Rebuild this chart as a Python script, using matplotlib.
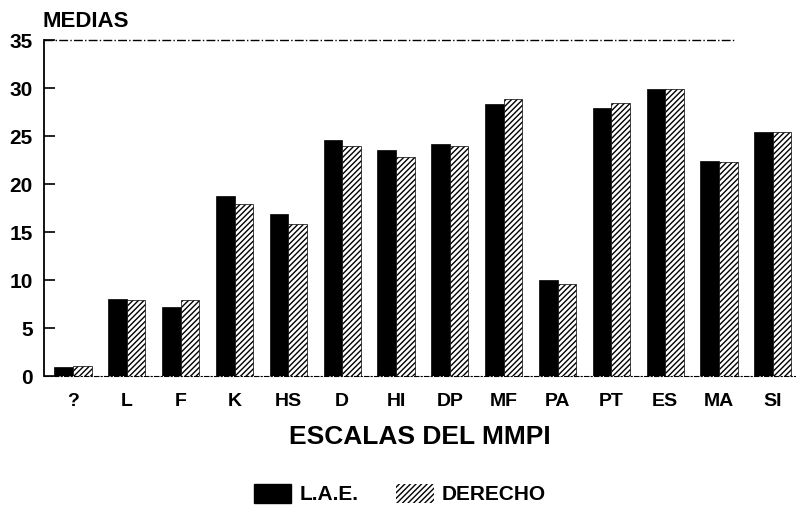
import matplotlib
matplotlib.use("Agg")
import matplotlib.pyplot as plt
import numpy as np
from matplotlib.patches import Patch

escalas = ["?", "L", "F", "K", "HS", "D", "HI", "DP", "MF", "PA", "PT", "ES", "MA", "SI"]
medias_lae = [0.9, 8.0, 7.2, 18.8, 16.9, 24.6, 23.5, 24.2, 28.3, 10.0, 27.9, 29.9, 22.4, 25.4]
medias_derecho = [1.0, 7.9, 7.9, 17.9, 15.8, 24.0, 22.8, 24.0, 28.9, 9.6, 28.4, 29.9, 22.3, 25.4]
y_ticks = [0, 5, 10, 15, 20, 25, 30, 35]

plt.rcParams["font.family"] = ["Liberation Sans", "DejaVu Sans"]
plt.rcParams["hatch.linewidth"] = 1.0

fig = plt.figure(figsize=(7.96, 5.12), dpi=100)
ax = fig.add_axes([44 / 796, 1 - 376 / 512, 1 - 44 / 796, 336 / 512])

x = np.arange(len(escalas))
w = 0.345
ax.bar(x - w / 2, medias_lae, w, color="black", edgecolor="black", linewidth=0.5)
ax.bar(x + w / 2, medias_derecho, w, color="white", edgecolor="black",
       linewidth=0.5, hatch="//////")

ax.set_xlim(-0.54, 13.43)
ax.set_ylim(0, 35)
ax.set_yticks(y_ticks)
ax.set_xticks(x)
ax.set_xticklabels(escalas, fontsize=14, fontweight="bold")
ax.tick_params(axis="x", length=0, pad=12)
ax.tick_params(axis="y", direction="in", length=8, width=1.2, pad=8,
               labelsize=15)
for lab in ax.get_yticklabels():
    lab.set_fontweight("bold")

for s in ["top", "right"]:
    ax.spines[s].set_visible(False)
ax.spines["left"].set_linewidth(1.3)
ax.spines["bottom"].set_linestyle((0, (4, 2, 1, 2)))
ax.spines["bottom"].set_linewidth(0.8)
# linea superior punteada en 35
ax.hlines(35, -0.54, 12.29, colors="black", linestyles="dashdot",
          linewidth=1.0, clip_on=False)

ax.set_xlabel("ESCALAS DEL MMPI", fontsize=19, fontweight="bold", labelpad=11)
fig.text(43 / 796, 1 - 27 / 512, "MEDIAS", fontsize=16, fontweight="bold",
         ha="left", va="baseline")

handles = [Patch(facecolor="black", edgecolor="black", label="L.A.E."),
           Patch(facecolor="white", edgecolor="black", linewidth=0,
                 hatch="//////", label="DERECHO")]
fig.legend(handles=handles, loc="center", bbox_to_anchor=(400 / 796, 1 - 494 / 512),
           ncol=2, frameon=False, handlelength=1.8, handleheight=1.05,
           handletextpad=0.4, columnspacing=1.8,
           prop={"size": 15, "weight": "bold"})

fig.savefig("out.png", dpi=100)
